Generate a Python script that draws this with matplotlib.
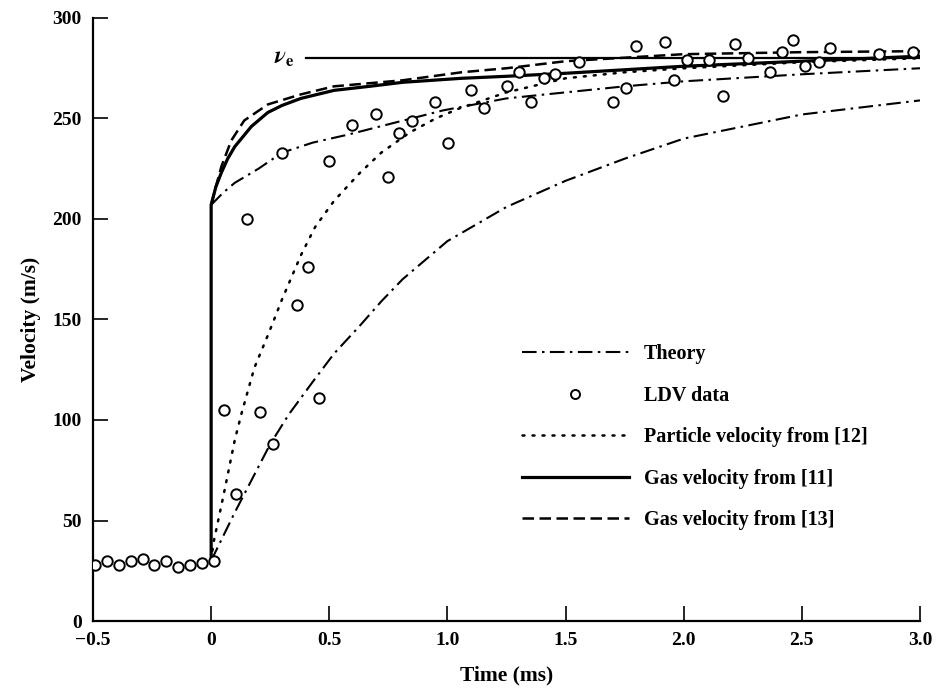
import matplotlib
matplotlib.use("Agg")
import matplotlib.pyplot as plt
from matplotlib.lines import Line2D

plt.rcParams['font.family'] = ['Liberation Serif', 'DejaVu Serif']
plt.rcParams['font.weight'] = 'bold'
plt.rcParams['mathtext.fontset'] = 'stix'

# LDV measurements (time in ms, velocity in m/s)
ldv_t = [-0.49, -0.44, -0.39, -0.34, -0.29, -0.24, -0.19, -0.14, -0.09, -0.04,
         0.01, 0.055, 0.106, 0.153, 0.208, 0.26, 0.298, 0.362, 0.409, 0.455,
         0.498, 0.596, 0.698, 0.749, 0.796, 0.851, 0.949, 1.004, 1.10, 1.153,
         1.25, 1.305, 1.355, 1.408, 1.457, 1.557, 1.70, 1.757, 1.80, 1.919,
         1.957, 2.013, 2.106, 2.166, 2.217, 2.27, 2.366, 2.417, 2.464, 2.515,
         2.574, 2.621, 2.826, 2.97]
ldv_v = [28, 30, 28, 30, 31, 28, 30, 27, 28, 29,
         30, 105, 63, 200, 104, 88, 233, 157, 176, 111,
         229, 247, 252, 221, 243, 249, 258, 238, 264, 255,
         266, 273, 258, 270, 272, 278, 258, 265, 286, 288,
         269, 279, 279, 261, 287, 280, 273, 283, 289, 276,
         278, 285, 282, 283]

# theory, gas phase
theory_gas_t = [0.0, 0.05, 0.1, 0.2, 0.3, 0.43, 0.58, 0.78, 0.98, 1.25, 1.5, 1.75, 2.0, 2.5, 3.0]
theory_gas_v = [207, 213, 218, 225, 233, 238, 242, 248, 254, 260, 263, 266, 268.5, 272, 275]

# theory, particle phase
theory_part_t = [0.0, 0.05, 0.1, 0.25, 0.33, 0.43, 0.52, 0.63, 0.72, 0.81, 0.91, 1.0, 1.25, 1.5, 1.75, 2.0, 2.5, 3.0]
theory_part_v = [30, 42, 54, 88, 103, 119, 133, 147, 159, 170, 180, 189, 206, 219, 230, 240, 252, 259]

# particle velocity from [12]
part_t = [0.0, 0.01, 0.055, 0.1, 0.128, 0.183, 0.243, 0.3, 0.38, 0.44, 0.52, 0.63, 0.72, 0.84, 0.95, 1.05, 1.25, 1.5, 1.75, 2.0, 2.5, 3.0]
part_v = [30, 39, 64, 90, 103, 126, 143, 160, 182, 196, 209, 223, 233, 243, 250, 255, 263, 270, 273, 275, 278, 280]

# gas velocity from [11]
gas11_t = [0.0, 0.0, 0.02, 0.043, 0.07, 0.1, 0.17, 0.24, 0.3, 0.38, 0.52, 0.67, 0.81, 1.06, 1.25, 1.5, 2.0, 2.5, 3.0]
gas11_v = [30, 207, 216, 223, 230, 236, 246, 253, 256.5, 260, 264, 266, 268, 270, 271, 272.5, 276, 278.5, 281]

# gas velocity from [13]
gas13_t = [0.0, 0.013, 0.043, 0.085, 0.14, 0.24, 0.38, 0.52, 0.81, 1.06, 1.25, 1.5, 2.0, 2.5, 3.0]
gas13_v = [207, 213, 226, 239, 249, 257, 262, 266, 269, 273, 275, 278.5, 282, 283, 283.5]

v_e = 280

fig = plt.figure(figsize=(9.38, 6.92), dpi=100)
ax = fig.add_axes([93 / 938, 1 - 621 / 692, 827 / 938, 603 / 692])

dashdot = (0, (7.0, 2.6, 1.2, 2.6))
ax.plot(theory_gas_t, theory_gas_v, color='black', lw=1.5, linestyle=dashdot)
ax.plot(theory_part_t, theory_part_v, color='black', lw=1.5, linestyle=dashdot)
ax.plot(part_t, part_v, color='black', lw=1.8, linestyle=(0, (0.8, 3.2)),
        dash_capstyle='round')
ax.plot(gas11_t, gas11_v, color='black', lw=2.3)
ax.plot(gas13_t, gas13_v, color='black', lw=1.8, linestyle=(0, (4.6, 2.2)))
ax.plot([0.4, 3.0], [v_e, v_e], color='black', lw=1.6)
ax.text(0.355, v_e, r'$\nu_{\mathrm{e}}$', fontsize=17, ha='right', va='center')

ax.plot(ldv_t, ldv_v, linestyle='none', marker='o', markersize=7.5,
        markerfacecolor='white', markeredgecolor='black', markeredgewidth=1.4,
        zorder=5)

ax.set_xlim(-0.5, 3.0)
ax.set_ylim(0, 300)
ax.set_xticks([-0.5, 0, 0.5, 1.0, 1.5, 2.0, 2.5, 3.0])
ax.set_xticklabels(['\u22120.5', '0', '0.5', '1.0', '1.5', '2.0', '2.5', '3.0'])
ax.set_yticks([0, 50, 100, 150, 200, 250, 300])
ax.tick_params(direction='in', length=11, width=1.2, labelsize=14)
ax.tick_params(axis='x', pad=8)
ax.tick_params(axis='y', pad=8)
for side in ['top', 'right']:
    ax.spines[side].set_visible(False)
for side in ['left', 'bottom']:
    ax.spines[side].set_linewidth(1.6)

ax.set_xlabel('Time (ms)', fontsize=15.5, fontweight='bold', labelpad=12)
ax.set_ylabel('Velocity (m/s)', fontsize=15.5, fontweight='bold', labelpad=8)

handles = [
    Line2D([], [], color='black', lw=1.5, linestyle=dashdot),
    Line2D([], [], linestyle='none', marker='o', markersize=6.5,
           markerfacecolor='white', markeredgecolor='black', markeredgewidth=1.4),
    Line2D([], [], color='black', lw=1.8, linestyle=(0, (0.8, 3.2)), dash_capstyle='round'),
    Line2D([], [], color='black', lw=2.3),
    Line2D([], [], color='black', lw=1.8, linestyle=(0, (4.6, 2.2))),
]
labels = ['Theory', 'LDV data', 'Particle velocity from [12]',
          'Gas velocity from [11]', 'Gas velocity from [13]']
ax.legend(handles, labels, loc='upper left', bbox_to_anchor=(522 / 938, 1 - 344 / 692),
          bbox_transform=fig.transFigure, frameon=False, fontsize=14.5,
          handlelength=5.3, handletextpad=0.75, labelspacing=1.07,
          borderpad=0, borderaxespad=0, numpoints=1)

fig.savefig('out.png', dpi=100)
